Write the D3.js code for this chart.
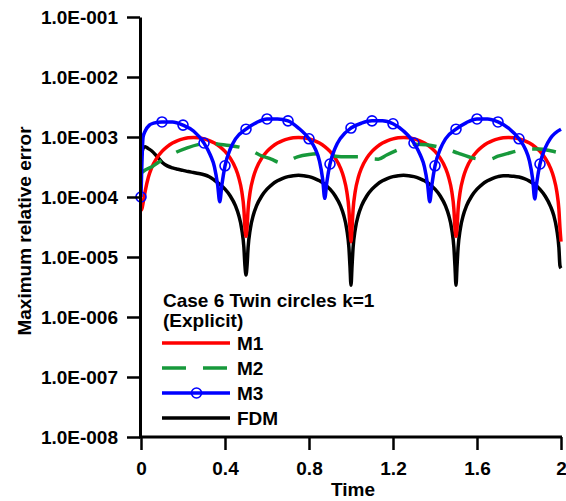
<!DOCTYPE html>
<html>
<head>
<meta charset="utf-8">
<script src="https://cdn.jsdelivr.net/npm/d3@7"></script>
<style>
  body { margin: 0; background: #fff; }
  svg text { font-family: "Liberation Sans", Arial, sans-serif; font-weight: bold; fill: #000; }
</style>
</head>
<body>
<svg id="chart" width="566" height="501"></svg>
<script>
// ---------------- data ----------------
const xTicks = [0, 0.4, 0.8, 1.2, 1.6, 2];
const xMinorTicks = [0.2, 0.6, 1.0, 1.4, 1.8];
const yTicks = [1e-8, 1e-7, 1e-6, 1e-5, 1e-4, 1e-3, 1e-2, 1e-1];
const yTickLabels = ["1.0E-008","1.0E-007","1.0E-006","1.0E-005","1.0E-004","1.0E-003","1.0E-002","1.0E-001"];
const seriesNames = ["M1", "M2", "M3", "FDM"];
const legendTitle = ["Case 6 Twin circles k=1", "(Explicit)"];

// time grid shared by M1 and FDM
const timeA = [
  0,0.005,0.01,0.02,0.035,0.05,0.075,0.1,0.125,0.15,0.175,0.2,0.225,0.25,0.275,0.3,0.325,0.35,0.375,0.4,0.425,0.45,0.465,0.48,0.49,0.495,
  0.5,0.505,0.51,0.52,0.535,0.55,0.575,0.6,0.625,0.65,0.675,0.7,0.725,0.75,0.775,0.8,0.825,0.85,0.875,0.9,0.925,0.95,0.965,0.98,0.99,0.995,
  1,1.005,1.01,1.02,1.035,1.05,1.075,1.1,1.125,1.15,1.175,1.2,1.225,1.25,1.275,1.3,1.325,1.35,1.375,1.4,1.425,1.45,1.465,1.48,1.49,1.495,
  1.5,1.505,1.51,1.52,1.535,1.55,1.575,1.6,1.625,1.65,1.675,1.7,1.725,1.75,1.775,1.8,1.825,1.85,1.875,1.9,1.925,1.95,1.965,1.98,1.99,1.995,
  2
];
const m1Value = [
  6.0e-5,6.5e-5,8.0e-5,1.25e-4,2.13e-4,3.03e-4,4.45e-4,5.76e-4,6.93e-4,7.93e-4,8.73e-4,9.32e-4,9.68e-4,9.8e-4,9.68e-4,9.32e-4,8.73e-4,7.93e-4,6.93e-4,5.76e-4,4.45e-4,3.03e-4,2.13e-4,1.23e-4,6.2e-5,3.1e-5,
  2.2e-5,3.1e-5,6.2e-5,1.23e-4,2.13e-4,3.03e-4,4.45e-4,5.76e-4,6.93e-4,7.93e-4,8.73e-4,9.32e-4,9.68e-4,9.8e-4,9.68e-4,9.32e-4,8.73e-4,7.93e-4,6.93e-4,5.76e-4,4.45e-4,3.03e-4,2.13e-4,1.23e-4,6.2e-5,3.1e-5,
  1.8e-5,3.1e-5,6.2e-5,1.23e-4,2.13e-4,3.03e-4,4.45e-4,5.76e-4,6.93e-4,7.93e-4,8.73e-4,9.32e-4,9.68e-4,9.8e-4,9.68e-4,9.32e-4,8.73e-4,7.93e-4,6.93e-4,5.76e-4,4.45e-4,3.03e-4,2.13e-4,1.23e-4,6.2e-5,3.1e-5,
  2.2e-5,3.1e-5,6.2e-5,1.23e-4,2.13e-4,3.03e-4,4.45e-4,5.76e-4,6.93e-4,7.93e-4,8.73e-4,9.32e-4,9.68e-4,9.8e-4,9.68e-4,9.32e-4,8.73e-4,7.93e-4,6.93e-4,5.76e-4,4.45e-4,3.03e-4,2.13e-4,1.23e-4,6.2e-5,3.1e-5,
  1.8e-5
];
const fdmValue = [
  4.5e-4,5.6e-4,6.5e-4,6.9e-4,6.4e-4,5.9e-4,4.8e-4,3.8e-4,3.3e-4,3.05e-4,2.9e-4,2.78e-4,2.66e-4,2.56e-4,2.46e-4,2.35e-4,2.18e-4,1.9e-4,1.63e-4,1.35e-4,1.04e-4,7.1e-5,5.0e-5,2.88e-5,1.44e-5,7.2e-6,
  5.0e-6,7.2e-6,1.44e-5,2.88e-5,5.0e-5,7.1e-5,1.04e-4,1.35e-4,1.63e-4,1.86e-4,2.05e-4,2.19e-4,2.27e-4,2.3e-4,2.27e-4,2.19e-4,2.05e-4,1.86e-4,1.63e-4,1.35e-4,1.04e-4,7.1e-5,5.0e-5,2.88e-5,1.44e-5,7.2e-6,
  3.4e-6,7.2e-6,1.44e-5,2.88e-5,5.0e-5,7.1e-5,1.04e-4,1.35e-4,1.63e-4,1.86e-4,2.05e-4,2.19e-4,2.27e-4,2.3e-4,2.27e-4,2.19e-4,2.05e-4,1.86e-4,1.63e-4,1.35e-4,1.04e-4,7.1e-5,5.0e-5,2.88e-5,1.44e-5,7.2e-6,
  3.4e-6,7.2e-6,1.44e-5,2.88e-5,5.0e-5,7.1e-5,1.04e-4,1.35e-4,1.63e-4,1.86e-4,2.05e-4,2.19e-4,2.27e-4,2.25e-4,2.22e-4,2.15e-4,2.02e-4,1.84e-4,1.62e-4,1.34e-4,1.03e-4,7.0e-5,5.0e-5,2.85e-5,1.43e-5,7.2e-6,
  6.5e-6
];

const m2Time = [0,0.02,0.05,0.08,0.12,0.17,0.22,0.28,0.33,0.37,0.42,0.47,0.52,0.565,0.62,0.665,0.7,0.745,0.8,0.845,0.89,0.925,0.98,1.045,1.09,1.13,1.17,1.22,1.27,1.31,1.36,1.42,1.47,1.51,1.56,1.615,1.66,1.7,1.75,1.795,1.85,1.895,1.95,2.0];
const m2Value = [2.51e-4,2.82e-4,3.16e-4,3.72e-4,4.47e-4,5.62e-4,6.61e-4,7.59e-4,7.94e-4,7.59e-4,7.24e-4,6.76e-4,6.03e-4,5.01e-4,4.27e-4,3.72e-4,3.98e-4,4.68e-4,5.13e-4,5.25e-4,5.01e-4,4.79e-4,4.68e-4,4.68e-4,4.37e-4,4.27e-4,5.01e-4,6.03e-4,7.08e-4,7.59e-4,7.41e-4,6.76e-4,6.03e-4,5.37e-4,4.68e-4,4.27e-4,4.27e-4,4.79e-4,5.37e-4,5.89e-4,6.31e-4,6.31e-4,5.89e-4,5.37e-4];

const m3Time = [0,0.01,0.02,0.04,0.06,0.1,0.15,0.2,0.25,0.3,0.33,0.35,0.365,0.375,0.385,0.4,0.425,0.45,0.5,0.55,0.6,0.65,0.7,0.75,0.8,0.83,0.85,0.865,0.875,0.885,0.9,0.925,0.95,1.0,1.05,1.1,1.15,1.2,1.25,1.3,1.33,1.35,1.365,1.375,1.385,1.4,1.425,1.45,1.5,1.55,1.6,1.65,1.7,1.75,1.8,1.83,1.85,1.865,1.875,1.885,1.9,1.925,1.95,2.0];
const m3Value = [1.0e-4,1.0e-3,1.26e-3,1.58e-3,1.70e-3,1.78e-3,1.78e-3,1.58e-3,1.26e-3,7.94e-4,5.01e-4,3.16e-4,1.58e-4,8.3e-5,1.58e-4,3.31e-4,6.31e-4,9.33e-4,1.35e-3,1.74e-3,2.0e-3,2.0e-3,1.86e-3,1.41e-3,9.33e-4,6.31e-4,3.98e-4,2.0e-4,9.5e-5,1.78e-4,3.55e-4,6.61e-4,9.55e-4,1.41e-3,1.70e-3,1.86e-3,1.86e-3,1.66e-3,1.26e-3,7.94e-4,5.01e-4,3.16e-4,1.58e-4,8.3e-5,1.58e-4,3.31e-4,6.31e-4,9.33e-4,1.35e-3,1.74e-3,2.0e-3,2.0e-3,1.78e-3,1.41e-3,9.33e-4,6.31e-4,3.98e-4,2.0e-4,9.3e-5,1.78e-4,3.55e-4,6.61e-4,9.55e-4,1.35e-3];
const m3MarkerTime = [0,0.1,0.2,0.3,0.4,0.5,0.6,0.7,0.8,0.9,1.0,1.1,1.2,1.3,1.4,1.5,1.6,1.7,1.8,1.9];

// ---------------- drawing ----------------
const svg = d3.select("#chart");
const x = d3.scaleLinear().domain([0, 2]).range([141, 561]);
const y = d3.scaleLog().domain([1e-8, 1e-1]).range([437, 17]);

const colors = { M1: "#ff0000", M2: "#17993b", M3: "#0000ff", FDM: "#000000" };

const zip = (ts, vs) => ts.map((t, i) => ({ t, v: vs[i] }));
const series = [
  { name: "M1", data: zip(timeA, m1Value), dash: null },
  { name: "M2", data: zip(m2Time, m2Value), dash: "24,17" },
  { name: "M3", data: zip(m3Time, m3Value), dash: null },
  { name: "FDM", data: zip(timeA, fdmValue), dash: null }
];

const line = d3.line().x(d => x(d.t)).y(d => y(d.v)).curve(d3.curveMonotoneX);

// draw order: FDM, M1, M2, M3 (blue on top)
const order = ["FDM", "M1", "M2", "M3"];
order.forEach(n => {
  const s = series.find(d => d.name === n);
  svg.append("path")
    .datum(s.data)
    .attr("d", line)
    .attr("fill", "none")
    .attr("stroke", colors[n])
    .attr("stroke-width", 3.5)
    .attr("stroke-linejoin", "round")
    .attr("stroke-dasharray", s.dash);
});

// M3 markers (placed on the M3 data points)
svg.append("g").selectAll("circle")
  .data(m3MarkerTime)
  .join("circle")
  .attr("cx", d => x(d))
  .attr("cy", d => y(m3Value[m3Time.indexOf(d)]))
  .attr("r", 5)
  .attr("fill", "none")
  .attr("stroke", colors.M3)
  .attr("stroke-width", 1.6);

// ---------------- axes ----------------
const yFmt = d => yTickLabels[yTicks.indexOf(d)];
const yMinor = [];
yTicks.slice(0, -1).forEach(dec => { for (let k = 2; k <= 9; k++) yMinor.push(dec * k); });

const gy = svg.append("g").attr("transform", "translate(140,0)");
gy.call(d3.axisLeft(y).tickValues(yMinor).tickSize(7).tickSizeOuter(0).tickFormat(""));
gy.call(d3.axisLeft(y).tickValues(yTicks).tickSize(13).tickSizeOuter(0).tickPadding(9).tickFormat(yFmt));
gy.selectAll("path.domain").attr("stroke-width", 3);
gy.selectAll("line").attr("stroke-width", 2.5);
gy.selectAll("text").style("font-size", "19px").attr("dy", "0.36em");

const gx = svg.append("g").attr("transform", "translate(0,437)");
gx.call(d3.axisBottom(x).tickValues(xMinorTicks).tickSize(6).tickSizeOuter(0).tickFormat(""));
gx.call(d3.axisBottom(x).tickValues(xTicks).tickSize(13).tickSizeOuter(0).tickFormat(d => String(d)));
gx.selectAll("path.domain").attr("d", "M139,0H562").attr("stroke-width", 3);
gx.selectAll("line").attr("stroke-width", 2.5);
gx.selectAll("text").style("font-size", "19px").attr("y", 38).attr("dy", null);

// axis titles
svg.append("text")
  .attr("transform", "translate(31,231) rotate(-90)")
  .attr("text-anchor", "middle")
  .style("font-size", "19px")
  .text("Maximum relative error");
svg.append("text")
  .attr("x", 353).attr("y", 496)
  .attr("text-anchor", "middle")
  .style("font-size", "19px")
  .text("Time");

// ---------------- legend ----------------
const lg = svg.append("g");
legendTitle.forEach((t, i) => {
  lg.append("text").attr("x", 163).attr("y", 307 + i * 20).style("font-size", "19px").text(t);
});
const legendY = [343, 368, 393, 418];
seriesNames.forEach((n, i) => {
  const s = series.find(d => d.name === n);
  const ly = legendY[i];
  lg.append("line")
    .attr("x1", 162).attr("x2", 230).attr("y1", ly).attr("y2", ly)
    .attr("stroke", colors[n]).attr("stroke-width", 3.5)
    .attr("stroke-dasharray", s.dash);
  if (n === "M3") {
    lg.append("circle").attr("cx", 196.5).attr("cy", ly).attr("r", 5)
      .attr("fill", "none").attr("stroke", colors[n]).attr("stroke-width", 1.6);
  }
  lg.append("text").attr("x", 237).attr("y", ly + 7).style("font-size", "19px").text(n);
});
</script>
</body>
</html>
